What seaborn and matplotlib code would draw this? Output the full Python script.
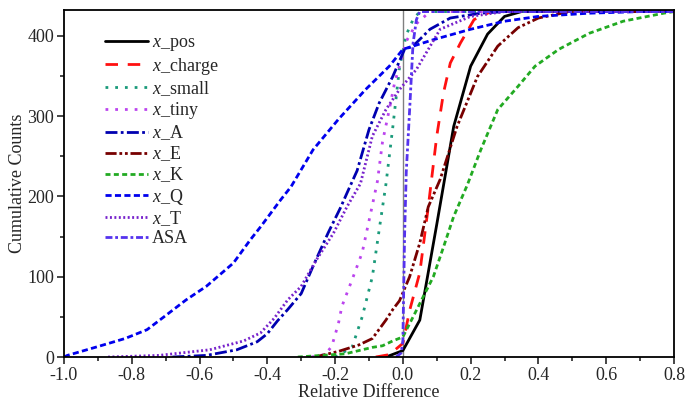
import pandas as pd
import matplotlib
matplotlib.use('Agg')
import matplotlib.pyplot as plt
from matplotlib.ticker import MultipleLocator
import seaborn as sns

# Curve data (relative difference vs cumulative counts)
pos_x = [-0.05, 0.0, 0.05, 0.1, 0.15, 0.2, 0.25, 0.3, 0.35, 0.8]
pos_y = [0, 8, 46, 165, 287, 362, 402, 424, 430, 430]

charge_x = [-0.08, -0.04, 0.0, 0.02, 0.05, 0.075, 0.1, 0.12, 0.14, 0.17, 0.21, 0.26, 0.8]
charge_y = [0, 3, 17, 58, 105, 187, 275, 329, 366, 391, 420, 430, 430]

small_x = [-0.2, -0.15, -0.12, -0.09, -0.07, -0.05, -0.03, -0.01, 0.01, 0.03, 0.05, 0.8]
small_y = [0, 12, 50, 100, 158, 215, 285, 360, 401, 420, 430, 430]

tiny_x = [-0.27, -0.23, -0.21, -0.19, -0.18, -0.15, -0.12, -0.09, -0.075, -0.06, -0.045, -0.025, 0.01, 0.04, 0.08, 0.8]
tiny_y = [0, 3, 13, 42, 63, 96, 130, 189, 219, 268, 298, 340, 393, 415, 430, 430]

A_x = [-0.68, -0.58, -0.49, -0.43, -0.40, -0.37, -0.34, -0.30, -0.265, -0.22, -0.185, -0.165, -0.135, -0.10, -0.07, -0.03, 0.005, 0.03, 0.08, 0.14, 0.23, 0.3, 0.8]
A_y = [0, 2, 9, 19, 29, 45, 59, 79, 113, 155, 185, 204, 232, 283, 316, 349, 383, 387, 408, 422, 428, 430, 430]

E_x = [-0.26, -0.19, -0.13, -0.09, -0.05, -0.03, -0.01, 0.02, 0.05, 0.075, 0.11, 0.16, 0.22, 0.28, 0.34, 0.4, 0.47, 0.5, 0.8]
E_y = [0, 7, 15, 23, 46, 59, 70, 100, 142, 187, 221, 287, 349, 387, 410, 422, 428, 430, 430]

K_x = [-0.31, -0.17, -0.09, -0.06, -0.03, 0.0, 0.035, 0.06, 0.09, 0.12, 0.15, 0.19, 0.23, 0.28, 0.34, 0.39, 0.46, 0.55, 0.65, 0.77, 0.8]
K_y = [0, 4, 12, 14, 20, 25, 54, 75, 100, 137, 175, 214, 258, 308, 337, 362, 383, 403, 418, 428, 430]

Q_x = [-1.0, -0.99, -0.9, -0.82, -0.755, -0.705, -0.64, -0.58, -0.5, -0.45, -0.42, -0.36, -0.33, -0.265, -0.19, -0.11, -0.04, 0.0, 0.03, 0.09, 0.2, 0.3, 0.4, 0.55, 0.7, 0.8]
Q_y = [0, 2, 13, 23, 34, 50, 71, 88, 117, 146, 162, 196, 212, 258, 296, 333, 362, 383, 387, 395, 408, 418, 424, 428, 430, 430]

T_x = [-0.87, -0.72, -0.57, -0.47, -0.42, -0.38, -0.34, -0.30, -0.255, -0.205, -0.165, -0.125, -0.09, -0.05, -0.01, 0.04, 0.11, 0.2, 0.3, 0.8]
T_y = [0, 2, 9, 20, 30, 48, 71, 88, 121, 154, 187, 216, 275, 308, 333, 358, 408, 424, 430, 430]

ASA_x = [-0.02, -0.005, 0.0, 0.005, 0.01, 0.02, 0.03, 0.04, 0.05, 0.8]
ASA_y = [0, 5, 20, 150, 230, 308, 390, 420, 430, 430]

labels = [r'$x$_pos', r'$x$_charge', r'$x$_small', r'$x$_tiny', r'$x$_A',
          r'$x$_E', r'$x$_K', r'$x$_Q', r'$x$_T', 'ASA']
xs = [pos_x, charge_x, small_x, tiny_x, A_x, E_x, K_x, Q_x, T_x, ASA_x]
ys = [pos_y, charge_y, small_y, tiny_y, A_y, E_y, K_y, Q_y, T_y, ASA_y]

colors = ['black', '#ff1010', '#1a9a7a', '#bb44ee', '#0000b0',
          '#770000', '#22aa22', '#0000ee', '#7722cc', '#5533ee']
styles = ['-', (0, (4.5, 3.5)), (0, (1, 2.5)), (0, (1, 2.5)), (0, (4.3, 1.2, 1, 1.2)),
          (0, (4, 1, 1, 1, 1, 1)), (0, (1.8, 1.2)), (0, (2.2, 1.2)), (0, (0.7, 0.9)),
          (0, (2.5, 1, 1, 1))]

sns.set_style('ticks')
plt.rcParams['font.family'] = ['Liberation Serif', 'DejaVu Serif']
plt.rcParams['mathtext.fontset'] = 'custom'
plt.rcParams['mathtext.rm'] = 'Liberation Serif'
plt.rcParams['mathtext.it'] = 'Liberation Serif:italic'

fig = plt.figure(figsize=(6.85, 4.09), dpi=100)
ax = fig.add_axes([0.0934, 0.1271, 0.8905, 0.8485])

ax.axvline(0, color='gray', lw=1, zorder=1)

for x, y, lab, c, ls in zip(xs, ys, labels, colors, styles):
    df = pd.DataFrame({'x': x, 'y': y})
    sns.lineplot(data=df, x='x', y='y', ax=ax, color=c, linestyle=ls,
                 linewidth=2, label=lab, sort=False, estimator=None)

ax.set_xlim(-1.0, 0.8)
ax.set_ylim(0, 432)
ax.xaxis.set_major_locator(MultipleLocator(0.2))
ax.xaxis.set_minor_locator(MultipleLocator(0.1))
ax.yaxis.set_major_locator(MultipleLocator(100))
ax.yaxis.set_minor_locator(MultipleLocator(50))
ax.set_xticklabels([f'{v:.1f}' for v in ax.get_xticks()])
ax.tick_params(which='major', direction='out', length=5, width=1.2, labelsize=13, pad=2)
ax.tick_params(which='minor', direction='out', length=3, width=1.2)
for s in ax.spines.values():
    s.set_linewidth(1.3)
    s.set_color('black')

ax.set_xlabel('Relative Difference', fontsize=13, labelpad=0)
ax.set_ylabel('Cumulative Counts', fontsize=13, labelpad=1)

ax.legend(loc='upper left', bbox_to_anchor=(0.067, 0.93), frameon=False,
          fontsize=13, handlelength=2.4, handletextpad=0.2, labelspacing=0.13,
          borderpad=0, borderaxespad=0)

plt.savefig('out.png', dpi=100)
plt.close()
